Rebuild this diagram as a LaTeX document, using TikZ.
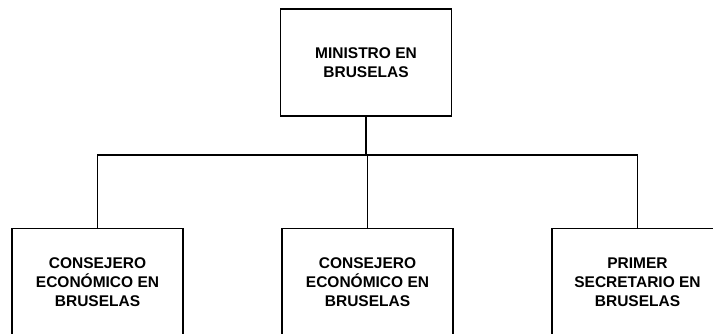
\documentclass[tikz,border=0pt]{standalone}
\usepackage{fontspec}
\setmainfont{Liberation Sans}
\tikzset{
  unit/.style={draw, line width=1.8pt, minimum width=171pt, minimum height=107pt,
    inner sep=0pt, align=center, font=\bfseries\fontsize{15.5}{19}\selectfont},
  link/.style={line width=1.8pt}
}
\begin{document}
\begin{tikzpicture}[x=1pt,y=-1pt]
\useasboundingbox (0,0) rectangle (713,334);

\node[unit] (boss) at (366,62.5) {MINISTRO EN\\BRUSELAS};
\node[unit] (cons1) at (97.5,282) {CONSEJERO\\ECONÓMICO EN\\BRUSELAS};
\node[unit] (cons2) at (367.5,282) {CONSEJERO\\ECONÓMICO EN\\BRUSELAS};
\node[unit] (sec) at (637.5,282) {PRIMER\\SECRETARIO EN\\BRUSELAS};

\coordinate (bar) at (366,155);
\draw[link] (boss.south) -- (bar);
\draw[link] (cons1.north) |- (bar) -| (sec.north);
\draw[link] (cons2.north) -- (cons2.north |- bar);
\end{tikzpicture}
\end{document}
